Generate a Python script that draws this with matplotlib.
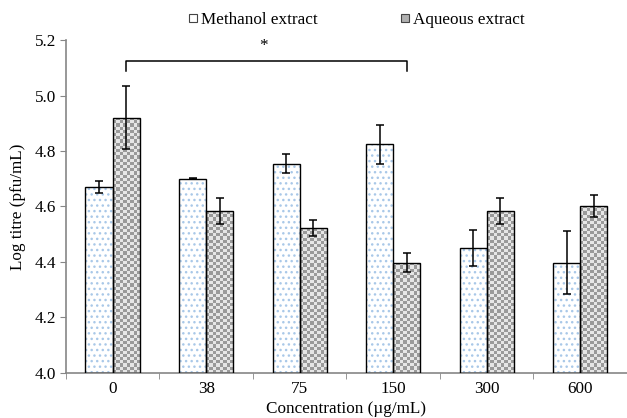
import numpy as np
import matplotlib
matplotlib.use("Agg")
import matplotlib.pyplot as plt
from matplotlib.lines import Line2D

plt.rcParams['font.family'] = ['Liberation Serif', 'DejaVu Serif']

categories = ['0', '38', '75', '150', '300', '600']
methanol = [4.669, 4.700, 4.755, 4.825, 4.452, 4.398]
methanol_err = [0.022, 0.002, 0.035, 0.070, 0.065, 0.113]
aqueous = [4.920, 4.584, 4.522, 4.398, 4.584, 4.603]
aqueous_err = [0.113, 0.047, 0.030, 0.035, 0.048, 0.040]
yticks = [4.0, 4.2, 4.4, 4.6, 4.8, 5.0, 5.2]

FS = 12.3

fig = plt.figure(figsize=(6.27, 4.18), dpi=100)
ax = fig.add_axes([0.105, 0.108, 0.895, 0.796])

x = np.arange(len(categories))
w = 0.29
ymin = 4.0
ax.set_xlim(-0.5, len(categories) - 0.5)
ax.set_ylim(4.0, 5.2)

# methanol bars: dotted light-blue fill
ax.bar(x - w / 2, np.array(methanol) - ymin, w, bottom=ymin, color='white',
       edgecolor='#a9c8e8', hatch='...', linewidth=0, zorder=2)
mb = ax.bar(x - w / 2, np.array(methanol) - ymin, w, bottom=ymin, color='none',
            edgecolor='black', linewidth=1.0, zorder=3)
# aqueous bars: checkerboard fill
ab = ax.bar(x + w / 2, np.array(aqueous) - ymin, w, bottom=ymin, color='none',
            edgecolor='black', linewidth=1.0, zorder=3)

fig.canvas.draw()
for p in ab.patches:
    bb = p.get_window_extent()
    nx = max(1, int(round(bb.width / 3.2)))
    ny = max(1, int(round(bb.height / 3.2)))
    img = (np.add.outer(np.arange(ny), np.arange(nx)) % 2).astype(float)
    x0, y0 = p.get_x(), p.get_y()
    im = ax.imshow(img, extent=(x0, x0 + p.get_width(), y0, y0 + p.get_height()),
                   cmap=matplotlib.colors.ListedColormap(['#9a9a9a', '#e6e6e6']),
                   interpolation='nearest', aspect='auto', zorder=2, origin='lower')
    im.set_clip_path(p)
ax.set_xlim(-0.5, len(categories) - 0.5)
ax.set_ylim(4.0, 5.2)

ax.errorbar(x - w / 2, methanol, yerr=methanol_err, fmt='none', ecolor='black',
            elinewidth=1.1, capsize=3, capthick=1.1, zorder=4)
ax.errorbar(x + w / 2, aqueous, yerr=aqueous_err, fmt='none', ecolor='black',
            elinewidth=1.1, capsize=3, capthick=1.1, zorder=4)

# significance bracket
xl, xr = 0 + w / 2, 3 + w / 2
yb, yt = 5.09, 5.125
ax.plot([xl, xl, xr, xr], [yb, yt, yt, yb], color='black', lw=1.1, clip_on=False, zorder=5)
ax.text((xl + xr) / 2 - 0.03, 5.178, '*', ha='center', va='center', fontsize=FS)

# axes styling
for s in ['top', 'right']:
    ax.spines[s].set_visible(False)
for s in ['left', 'bottom']:
    ax.spines[s].set_color('#868686')
    ax.spines[s].set_linewidth(1.2)
ax.set_yticks(yticks)
ax.set_yticklabels([f'{v:.1f}' for v in yticks], fontsize=FS)
ax.tick_params(axis='y', direction='out', length=4, color='#868686', pad=3)
ax.set_xticks(x)
ax.set_xticklabels(categories, fontsize=FS)
ax.tick_params(axis='x', which='major', length=0, pad=6)
ax.set_xticks(np.arange(-0.5, len(categories) + 0.5, 1), minor=True)
ax.tick_params(axis='x', which='minor', direction='out', length=4, color='#868686')
ax.set_ylabel('Log titre (pfu/mL)', fontsize=FS, labelpad=6)
ax.set_xlabel('Concentration (µg/mL)', fontsize=FS, labelpad=3)

handles = [Line2D([], [], linestyle='none', marker='s', markersize=5.5,
                  markerfacecolor='white', markeredgecolor='#444444', markeredgewidth=0.8),
           Line2D([], [], linestyle='none', marker='s', markersize=5.5,
                  markerfacecolor='#b0b0b0', markeredgecolor='#444444', markeredgewidth=0.8)]
leg = fig.legend(handles, ['Methanol extract', 'Aqueous extract'], loc='center',
                 bbox_to_anchor=(0.569, 0.952), ncol=2, frameon=False, fontsize=FS,
                 handlelength=0.5, handletextpad=0.2, columnspacing=4.9,
                 borderpad=0, borderaxespad=0)

fig.savefig('out.png', dpi=100)
